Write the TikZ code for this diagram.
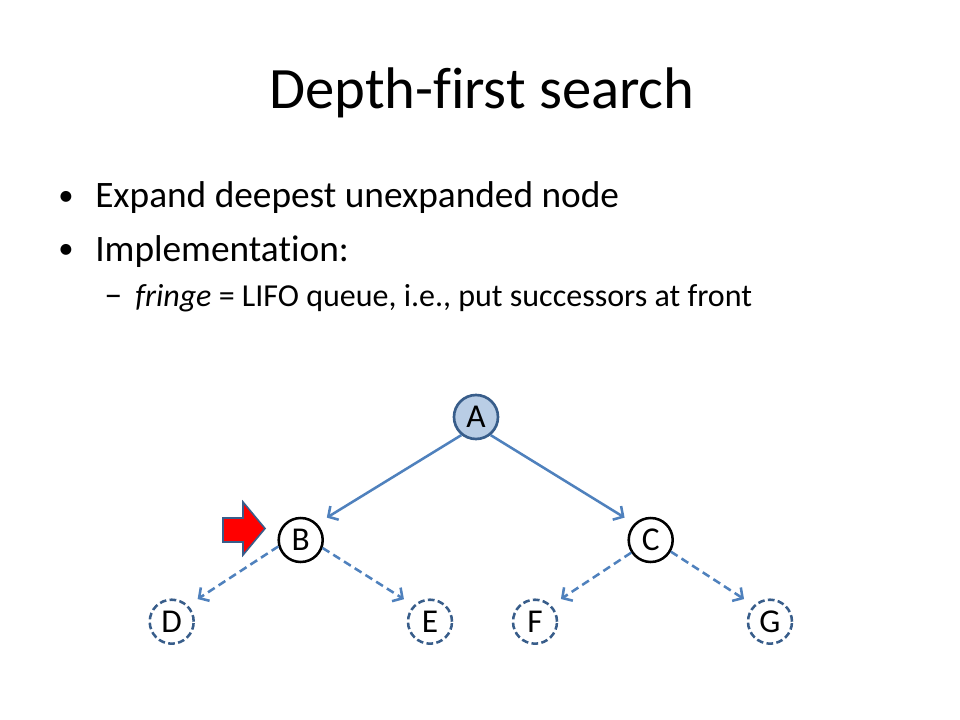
\documentclass[tikz,border=0pt]{standalone}
\usepackage{fontspec}
\setmainfont{Carlito}[Ligatures={NoCommon}]
\usetikzlibrary{arrows.meta}
\definecolor{edgeblue}{HTML}{4F81BD}
\definecolor{darkborder}{HTML}{385D8A}
\definecolor{afill}{HTML}{B9CDE5}
\definecolor{arrowred}{HTML}{FF0000}
\tikzset{
  treenode/.style={circle, minimum size=33pt, inner sep=0pt, font=\fontsize{25}{28}\selectfont},
  visited/.style={treenode, draw=darkborder, fill=afill, line width=2pt},
  current/.style={treenode, draw=black, fill=white, line width=1.9pt},
  frontier/.style={treenode, draw=darkborder, line width=1.9pt, dash pattern=on 5pt off 2.5pt},
  solidedge/.style={draw=edgeblue, line width=1.9pt, -{Straight Barb[length=5.5pt,width=12pt,line width=1.9pt]}, shorten >=8.5pt},
  dashededge/.style={solidedge, dash pattern=on 6pt off 3.5pt},
  bodytext/.style={anchor=base west, inner sep=0pt}
}
\begin{document}
\begin{tikzpicture}[x=0.75pt,y=-0.75pt]
\useasboundingbox (0,0) rectangle (960,720);
\fill[white] (0,0) rectangle (960,720);
% title
\node[anchor=base, inner sep=0pt, font=\fontsize{44}{50}\selectfont] (title) at (482,109) {Depth-first search};
% bullets
\node[bodytext, font=\fontsize{23}{26}\selectfont] (b1dot) at (58,205.5) {•};
\node[bodytext, font=\fontsize{28}{32}\selectfont] (b1) at (95,208) {Expand deepest unexpanded node};
\node[bodytext, font=\fontsize{23}{26}\selectfont] (b2dot) at (58,259) {•};
\node[bodytext, font=\fontsize{28}{32}\selectfont] (b2) at (95,261.5) {Implementation:};
\node[bodytext, font=\fontsize{24}{28}\selectfont] (s1dash) at (104,306.5) {\resizebox{13.5pt}{!}{–}};
\node[bodytext, font=\fontsize{24}{28}\selectfont] (s1) at (135,306.5) {\textit{fringe} = LIFO queue, i.e., put successors at front};
% tree
\node[visited] (A) at (476,417) {A};
\node[current] (B) at (300.7,540) {B};
\node[current] (C) at (650.7,540) {C};
\node[frontier] (D) at (171.7,621.7) {D};
\node[frontier] (E) at (430,621.7) {E};
\node[frontier] (F) at (535,621.7) {F};
\node[frontier] (G) at (770,621.7) {G};
\draw[solidedge] (A.231) -- (B.45);
\draw[solidedge] (A.309) -- (C.135);
\draw[dashededge] (B.196) -- (D.45);
\draw[dashededge] (B.340) -- (E.135);
\draw[dashededge] (C.213) -- (F.45);
\draw[dashededge] (C.330) -- (G.135);
% red pointer arrow
\draw[draw=darkborder, fill=arrowred, line width=1.2pt, line join=miter]
  (223,518) -- (243,518) -- (243,502) -- (265,528.5) -- (243,555) -- (243,542) -- (223,542) -- cycle;
\end{tikzpicture}
\end{document}
